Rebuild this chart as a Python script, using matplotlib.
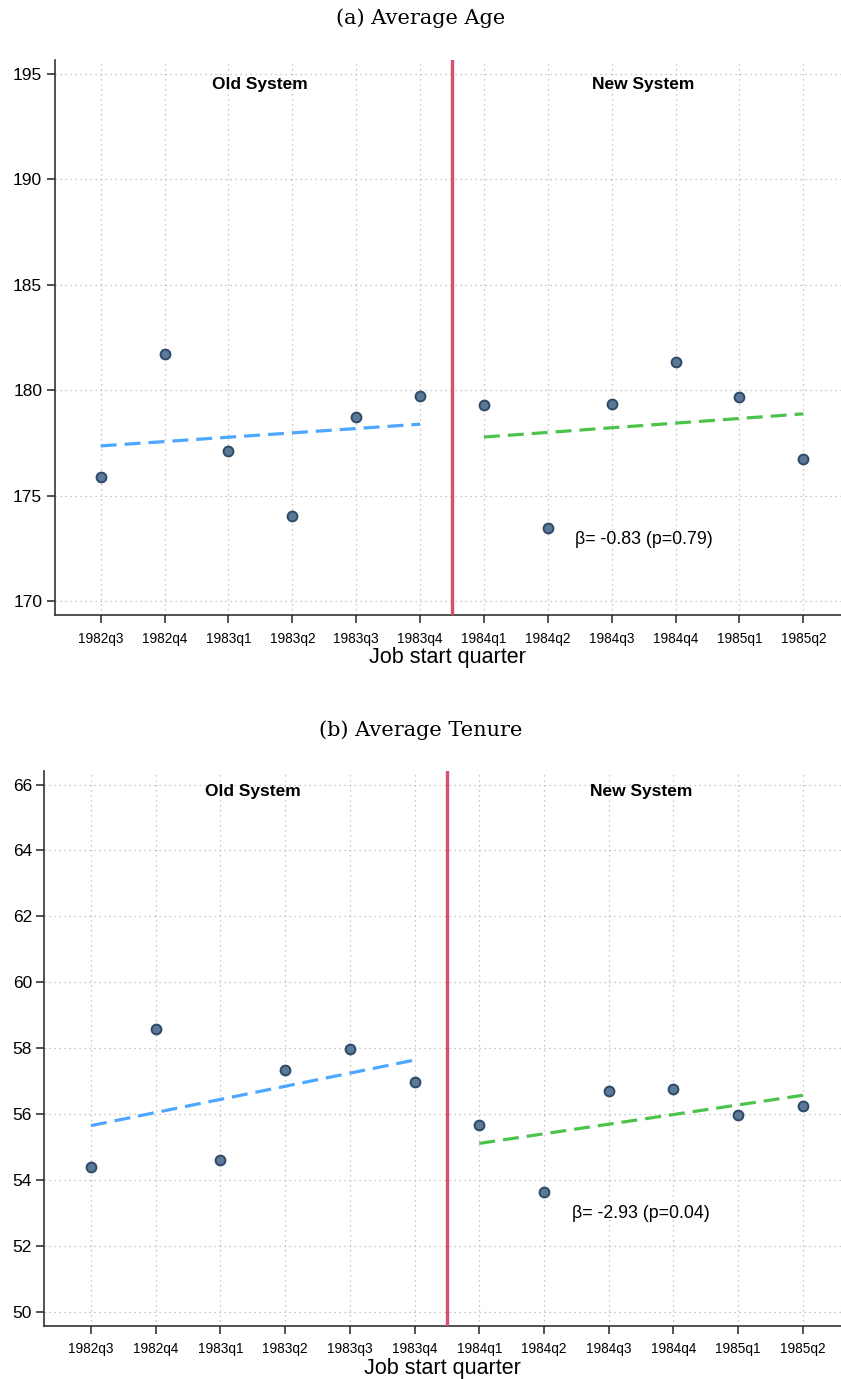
import numpy as np
import matplotlib
matplotlib.use("Agg")
import matplotlib.pyplot as plt


### DATA ###
quarters = ['1982q3', '1982q4', '1983q1', '1983q2', '1983q3', '1983q4',
            '1984q1', '1984q2', '1984q3', '1984q4', '1985q1', '1985q2']

age_means = [175.87, 181.71, 177.10, 174.02, 178.75, 179.72,
             179.32, 173.45, 179.37, 181.33, 179.68, 176.76]
age_fit_old = [177.36, 178.39]   # fitted value at 1982q3 and 1983q4
age_fit_new = [177.78, 178.88]   # fitted value at 1984q1 and 1985q2
age_yticks = [170, 175, 180, 185, 190, 195]
age_note = 'β= -0.83 (p=0.79)'

tenure_means = [54.39, 58.58, 54.61, 57.33, 57.97, 56.98,
                55.66, 53.63, 56.70, 56.75, 55.98, 56.24]
tenure_fit_old = [55.65, 57.64]
tenure_fit_new = [55.11, 56.57]
tenure_yticks = [50, 52, 54, 56, 58, 60, 62, 64, 66]
tenure_note = 'β= -2.93 (p=0.04)'


### STYLE ###
plt.rcParams['font.family'] = ['Liberation Sans', 'DejaVu Sans']
marker_face = '#5b7a99'
marker_edge = '#2f4a66'
old_col = '#4da6ff'
new_col = '#4cc44c'
cutoff_col = '#d9506e'
grid_col = '#b5b5b5'
spine_col = '#333333'


def panel(ax, means, fit_old, fit_new, yticks, ylim, label_y, note_y, note):
    x = np.arange(len(quarters))
    ax.set_xlim(-0.72, 11.59)
    ax.set_ylim(*ylim)
    ax.set_yticks(yticks)
    ax.set_xticks(x)
    ax.set_xticklabels(quarters, fontsize=9.8)
    ax.tick_params(axis='y', labelsize=12.5, length=6, width=1.2, color=spine_col, pad=3)
    ax.tick_params(axis='x', length=6, width=1.2, color=spine_col, pad=6)
    for s in ['top', 'right']:
        ax.spines[s].set_visible(False)
    for s in ['left', 'bottom']:
        ax.spines[s].set_color(spine_col)
        ax.spines[s].set_linewidth(1.2)
    ax.grid(True, color=grid_col, linestyle=(0, (1, 3)), linewidth=0.9)
    ax.set_axisbelow(True)

    ax.plot([x[0], x[5]], fit_old, color=old_col, lw=2.3, ls=(0, (5, 2.5)), zorder=3)
    ax.plot([x[6], x[11]], fit_new, color=new_col, lw=2.3, ls=(0, (5, 2.5)), zorder=3)
    ax.axvline(5.5, color=cutoff_col, lw=2.4, zorder=4)
    ax.scatter(x, means, s=50, color=marker_face, edgecolor=marker_edge,
               linewidth=1.4, zorder=5)

    ax.text(2.5, label_y, 'Old System', ha='center', va='center',
            fontsize=12.5, fontweight='bold')
    ax.text(8.5, label_y, 'New System', ha='center', va='center',
            fontsize=12.5, fontweight='bold')
    ax.text(8.5, note_y, note, ha='center', va='center', fontsize=12.8)
    ax.set_xlabel('Job start quarter', fontsize=15.5, labelpad=1)


fig = plt.figure(figsize=(8.41, 13.79), dpi=100)
ax1 = fig.add_axes([0.065, 0.554, 0.935, 0.4025])
ax2 = fig.add_axes([0.0529, 0.0387, 0.9471, 0.4024])

panel(ax1, age_means, age_fit_old, age_fit_new, age_yticks,
      (169.34, 195.66), 194.48, 172.94, age_note)
panel(ax2, tenure_means, tenure_fit_old, tenure_fit_new, tenure_yticks,
      (49.58, 66.42), 65.78, 52.97, tenure_note)

fig.text(0.5, 1 - 18 / 1379, '(a) Average Age', ha='center', va='center',
         fontsize=15, family='DejaVu Serif')
fig.text(0.5, 1 - 730 / 1379, '(b) Average Tenure', ha='center', va='center',
         fontsize=15, family='DejaVu Serif')

fig.savefig('out.png', dpi=100)
